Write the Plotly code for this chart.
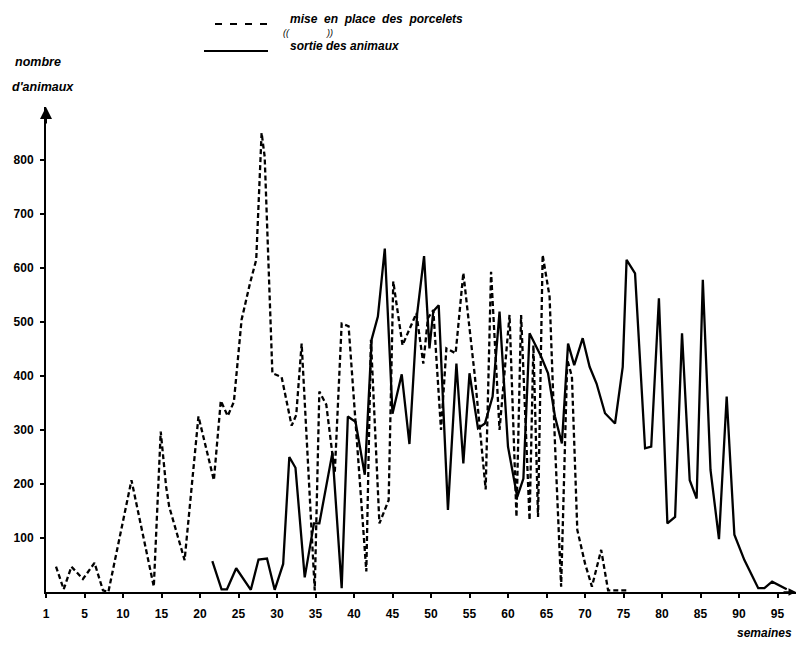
import plotly.graph_objects as go

# ---- data ----
mise_weeks = [1.3, 2.3, 3.3, 4.8, 6.3, 7.4, 8.1, 11.1, 14.0, 14.9, 15.6, 16.0, 18.0, 19.8,
              21.8, 22.7, 23.6, 24.4, 25.4, 26.5, 27.3, 28.0, 28.4, 29.4, 30.6, 31.9, 32.5,
              33.2, 34.9, 35.5, 36.4, 37.1, 37.5, 38.4, 39.3, 41.6, 42.2, 43.3, 44.5, 45.1,
              46.3, 48.1, 49.0, 49.6, 50.3, 51.3, 52.0, 53.2, 54.2, 55.7, 57.1, 57.8, 58.9,
              60.2, 61.1, 61.7, 62.8, 63.3, 63.9, 64.5, 65.4, 66.1, 66.9, 67.7, 68.3, 69.0,
              70.0, 70.9, 72.1, 73.0, 75.5]
mise_values = [47, 5, 47, 24, 54, 3, 0, 207, 10, 297, 195, 158, 59, 325,
               207, 354, 326, 352, 504, 572, 615, 850, 806, 405, 398, 308, 328,
               460, 3, 371, 347, 270, 220, 497, 492, 38, 467, 127, 170, 575,
               457, 516, 423, 507, 522, 300, 451, 442, 591, 399, 190, 593, 300,
               513, 139, 513, 133, 457, 139, 624, 547, 275, 10, 430, 399, 115,
               53, 10, 78, 3, 3]

sortie_weeks = [21.6, 22.8, 23.5, 24.7, 26.6, 27.6, 28.7, 29.7, 30.8, 31.6, 32.4, 33.6,
                34.8, 35.5, 37.2, 38.4, 39.2, 40.2, 41.4, 42.3, 43.1, 44.0, 45.0, 46.2,
                47.2, 48.2, 49.1, 49.8, 50.3, 51.0, 52.2, 53.3, 54.2, 55.0, 56.1, 57.0,
                58.0, 58.9, 60.0, 61.2, 62.0, 62.8, 64.3, 65.2, 66.1, 67.0, 67.8, 68.6,
                69.7, 70.6, 71.5, 72.6, 73.9, 74.9, 75.4, 76.5, 77.8, 78.6, 79.6, 80.7,
                81.7, 82.6, 83.6, 84.5, 85.3, 86.3, 87.4, 88.4, 89.4, 90.7, 92.5, 93.3,
                94.3, 96.2]
sortie_values = [57, 5, 5, 44, 4, 60, 62, 4, 52, 250, 230, 27,
                 127, 127, 258, 7, 325, 315, 217, 468, 510, 636, 330, 403,
                 274, 515, 622, 451, 520, 531, 152, 423, 238, 405, 303, 312,
                 362, 519, 269, 176, 210, 479, 436, 405, 325, 275, 460, 420,
                 470, 417, 386, 331, 312, 417, 615, 590, 266, 269, 544, 127,
                 139, 479, 207, 173, 578, 226, 98, 362, 106, 59, 7, 7,
                 19, 5]

y_tick_values = [100, 200, 300, 400, 500, 600, 700, 800]
x_tick_values = [0, 5, 10, 15, 20, 25, 30, 35, 40, 45, 50, 55, 60, 65, 70, 75, 80, 85, 90, 95]
x_tick_labels = ["1", "5", "10", "15", "20", "25", "30", "35", "40", "45", "50", "55",
                 "60", "65", "70", "75", "80", "85", "90", "95"]

Y_MAX = 898

FONT = "Liberation Sans"
tick_font = dict(family=FONT, size=12, color="black", weight="bold")
title_font = dict(family=FONT, size=12.5, color="black", weight="bold", style="italic")
leg_font = dict(family=FONT, size=12, color="black", weight="bold", style="italic")

fig = go.Figure()
fig.add_trace(go.Scatter(x=mise_weeks, y=mise_values, mode="lines",
                         line=dict(color="black", width=2.3, dash="5px,3px"),
                         name="mise en place des porcelets", showlegend=False))
fig.add_trace(go.Scatter(x=sortie_weeks, y=sortie_values, mode="lines",
                         line=dict(color="black", width=2.3),
                         name="sortie des animaux", showlegend=False))

# page has an 8px body margin; plot area on the page spans x 46..796, y 107..592
OFF = 8
PL, PR, PT, PB = 46, 796, 107, 592
X_MAX = (PR - PL) / 7.7
L, T = PL - OFF, PT - OFF
R, B = 0, 47
W = L + (PR - PL) + R
H = T + (PB - PT) + B
pw, ph = PR - PL, PB - PT


def px(xp):
    return (xp - PL) / pw


def py(yp):
    return (PB - yp) / ph


fig.update_layout(
    width=W, height=H, autosize=False,
    margin=dict(l=L, r=R, t=T, b=B, pad=0),
    paper_bgcolor="white", plot_bgcolor="white",
    xaxis=dict(range=[0, X_MAX], tickvals=x_tick_values, ticktext=x_tick_labels,
               showline=True, linecolor="black", linewidth=1.5, ticks="outside",
               ticklen=4, tickwidth=1.5, tickcolor="black", tickfont=tick_font,
               showgrid=False, zeroline=False, ticklabelstandoff=6),
    yaxis=dict(range=[0, Y_MAX], tickvals=y_tick_values,
               ticktext=[str(v) for v in y_tick_values],
               showline=True, linecolor="black", linewidth=2, ticks="outside",
               ticklen=4, tickwidth=1.5, tickcolor="black", tickfont=tick_font,
               showgrid=False, zeroline=False, ticklabelstandoff=4),
)

annotations = [
    # axis arrows
    dict(x=0, y=Y_MAX, xref="x", yref="y", ax=0, ay=18, axref="pixel", ayref="pixel",
         text="", showarrow=True, arrowhead=2, arrowsize=1.2, arrowwidth=2, arrowcolor="black"),
    dict(x=X_MAX, y=0, xref="x", yref="y", ax=-14, ay=0, text="", showarrow=True,
         arrowhead=2, arrowsize=1, arrowwidth=1.5, arrowcolor="black"),
    # axis titles
    dict(x=px(13), y=py(62), xref="paper", yref="paper", xanchor="left", yanchor="middle",
         text="nombre", showarrow=False, font=title_font),
    dict(x=px(10), y=py(87), xref="paper", yref="paper", xanchor="left", yanchor="middle",
         text="d'animaux", showarrow=False, font=title_font),
    dict(x=px(794), y=py(633), xref="paper", yref="paper", xanchor="right", yanchor="middle",
         text="semaines", showarrow=False,
         font=dict(family=FONT, size=12, color="black", weight="bold", style="italic")),
    # legend texts
    dict(x=px(288), y=py(19), xref="paper", yref="paper", xanchor="left", yanchor="middle",
         text="mise  en  place  des  porcelets", showarrow=False, font=leg_font),
    dict(x=px(288), y=py(46), xref="paper", yref="paper", xanchor="left", yanchor="middle",
         text="sortie des animaux", showarrow=False, font=leg_font),
    dict(x=px(281), y=py(33), xref="paper", yref="paper", xanchor="left", yanchor="middle",
         text="((", showarrow=False, font=dict(family=FONT, size=9, color="black", style="italic")),
    dict(x=px(324), y=py(33), xref="paper", yref="paper", xanchor="left", yanchor="middle",
         text="))", showarrow=False, font=dict(family=FONT, size=9, color="black", style="italic")),
]
fig.update_layout(annotations=annotations)

fig.update_layout(shapes=[
    dict(type="line", xref="paper", yref="paper", x0=px(215), x1=px(268), y0=py(24), y1=py(24),
         line=dict(color="black", width=2, dash="7px,8px")),
    dict(type="line", xref="paper", yref="paper", x0=px(204), x1=px(268), y0=py(51), y1=py(51),
         line=dict(color="black", width=2)),
])

fig.write_html("out.html")
